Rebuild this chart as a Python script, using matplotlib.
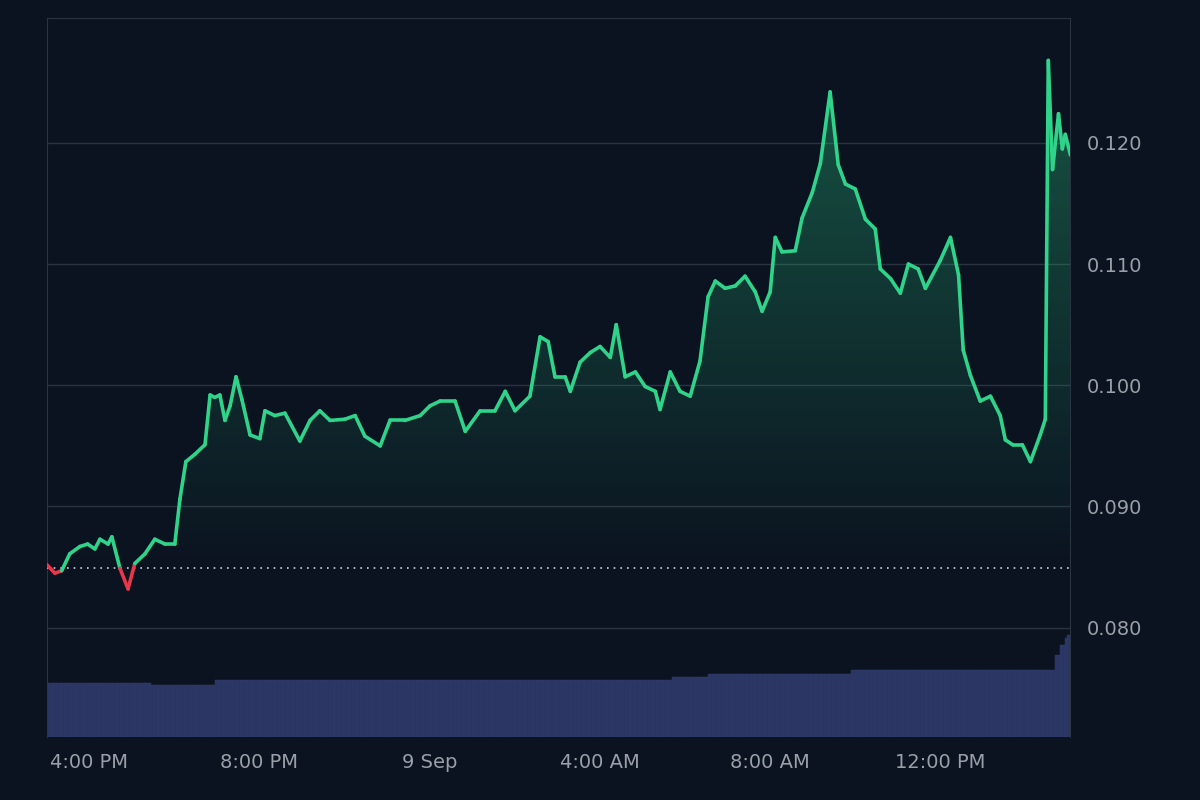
import numpy as np
import matplotlib
matplotlib.use("Agg")
import matplotlib.pyplot as plt
from matplotlib.collections import LineCollection
from matplotlib.patches import Polygon
from matplotlib.colors import LinearSegmentedColormap

# hours after 15:00
hours = [0.00,0.19,0.35,0.54,0.78,0.96,1.13,1.25,1.44,1.53,1.72,1.91,2.07,2.31,2.54,2.78,3.01,3.13,3.27,3.48,
         3.72,3.84,3.95,4.07,4.19,4.31,4.45,4.59,4.78,5.01,5.13,5.36,5.60,5.95,6.19,6.42,6.66,7.01,7.25,7.48,
         7.84,8.07,8.42,8.78,9.01,9.25,9.60,9.84,10.19,10.54,10.78,11.01,11.36,11.60,11.79,11.95,12.19,12.31,12.54,12.78,
         13.01,13.25,13.39,13.60,13.84,14.07,14.31,14.42,14.66,14.89,15.13,15.36,15.55,15.72,15.95,16.19,16.42,16.66,16.82,17.01,
         17.13,17.29,17.60,17.76,18.00,18.19,18.42,18.61,18.78,19.01,19.25,19.48,19.60,19.84,20.07,20.26,20.49,20.66,21.01,21.25,
         21.44,21.55,21.72,21.95,22.19,22.42,22.54,22.71,22.94,23.13,23.36,23.48,23.55,23.65,23.79,23.88,23.95,24.07]
price = [0.0852,0.0845,0.0847,0.0861,0.0867,0.0869,0.0865,0.0873,0.0869,0.0875,0.0849,0.0832,0.0853,0.0861,0.0873,0.0869,0.0869,0.0906,0.0937,0.0943,
         0.0951,0.0992,0.0990,0.0992,0.0971,0.0983,0.1007,0.0988,0.0959,0.0956,0.0979,0.0975,0.0977,0.0954,0.0971,0.0979,0.0971,0.0972,0.0975,0.0958,
         0.0950,0.0971,0.0971,0.0975,0.0983,0.0987,0.0987,0.0962,0.0979,0.0979,0.0995,0.0979,0.0991,0.1040,0.1036,0.1007,0.1007,0.0995,0.1019,0.1027,
         0.1032,0.1023,0.1050,0.1007,0.1011,0.0999,0.0995,0.0980,0.1011,0.0995,0.0991,0.1020,0.1073,0.1086,0.1080,0.1082,0.1090,0.1077,0.1061,0.1077,
         0.1122,0.1110,0.1111,0.1138,0.1159,0.1183,0.1242,0.1182,0.1166,0.1162,0.1137,0.1129,0.1096,0.1088,0.1076,0.1100,0.1096,0.1080,0.1103,0.1122,
         0.1091,0.1029,0.1008,0.0987,0.0991,0.0975,0.0955,0.0951,0.0951,0.0937,0.0959,0.0972,0.1268,0.1178,0.1224,0.1195,0.1207,0.1190]
baseline = 0.0849

vol_hours = [0.0,2.42,3.95,11.60,14.66,15.48,18.90,23.53,23.65,23.77,23.89,24.0,24.2]
vol_level = [54,52,57,57,60,63,67,67,82,92,99,102,102]

xtick_pos = [1, 5, 9, 13, 17, 21]
xtick_lab = ["4:00 PM", "8:00 PM", "9 Sep", "4:00 AM", "8:00 AM", "12:00 PM"]
ytick_pos = [0.080, 0.090, 0.100, 0.110, 0.120]
ytick_lab = ["0.080", "0.090", "0.100", "0.110", "0.120"]

bg = "#0b1320"
grid = "#2a3340"
green = "#2fd38a"
red = "#e8364b"
tcol = "#9aa0a8"

fig = plt.figure(figsize=(12, 8), dpi=100, facecolor=bg)
rect = [0.039, 0.079, 0.853, 0.8985]
vax = fig.add_axes(rect, facecolor=bg)
ax = fig.add_axes(rect, facecolor="none")
x0, x1 = 0.0, 24.07
y0, y1 = 0.0710, 0.1303
ax.set_xlim(x0, x1)
ax.set_ylim(y0, y1)

# volume bars
vax.set_xlim(x0, x1)
vax.set_ylim(0, 719)
vx = np.arange(0, 24.07, 0.06)
vh = np.array([vol_level[np.searchsorted(vol_hours, t, side="right") - 1] for t in vx])
vax.bar(vx, vh, width=0.06, align="edge", color="#2b3562", edgecolor="#333e70", linewidth=0.3)
vax.axis("off")

for yt in ytick_pos:
    ax.axhline(yt, color=grid, lw=1, zorder=1)

h = np.array(hours); p = np.array(price)
poly_x = np.concatenate([[h[0]], h, [h[-1]]])
poly_y = np.concatenate([[baseline], np.maximum(p, baseline), [baseline]])
patch = Polygon(np.column_stack([poly_x, poly_y]), closed=True, facecolor="none", edgecolor="none")
ax.add_patch(patch)
grad = np.linspace(0, 1, 256).reshape(-1, 1)
cmap = LinearSegmentedColormap.from_list("g", [(0.18, 0.83, 0.54, 0.0), (0.18, 0.83, 0.54, 0.35)])
im = ax.imshow(grad, extent=[x0, x1, baseline, 0.127], origin="lower", aspect="auto", cmap=cmap, zorder=2)
im.set_clip_path(patch)
ax.set_xlim(x0, x1); ax.set_ylim(y0, y1)

ax.axhline(baseline, color="#cfd3d8", lw=1.2, ls=(0, (1, 3)), zorder=3)

pts = np.column_stack([h, p]).reshape(-1, 1, 2)
segs = np.concatenate([pts[:-1], pts[1:]], axis=1)
mid = (p[:-1] + p[1:]) / 2
cols = [green if m >= baseline else red for m in mid]
ax.add_collection(LineCollection(segs, colors=cols, linewidths=2.6, zorder=4, capstyle="round", joinstyle="round"))

ax.set_xticks(xtick_pos)
ax.set_xticklabels(xtick_lab)
ax.yaxis.tick_right()
ax.set_yticks(ytick_pos)
ax.set_yticklabels(ytick_lab)
ax.tick_params(colors=tcol, labelsize=14, length=0, pad=12)
for s in ax.spines.values():
    s.set_color(grid)
ax.spines["bottom"].set_visible(False)
fig.savefig("out.png", dpi=100, facecolor=bg)
